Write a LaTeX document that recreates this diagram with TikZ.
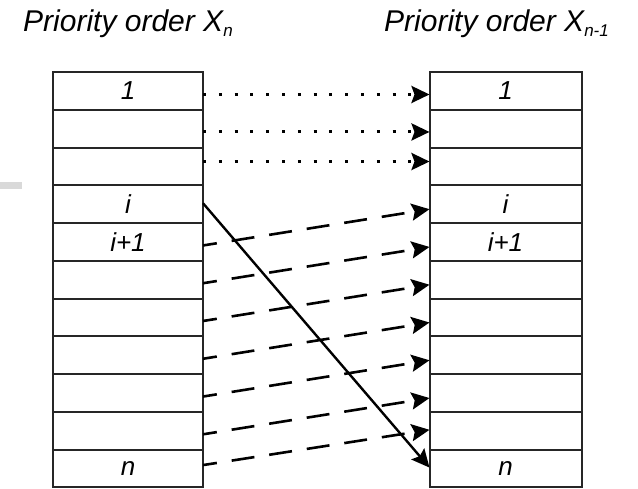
\documentclass[tikz,border=0pt]{standalone}
\usepackage{fontspec}
\setmainfont{Liberation Sans}
\usetikzlibrary{arrows.meta, calc}

\newcommand{\sublbl}[1]{\raisebox{-4.5pt}{\fontsize{17}{17}\selectfont #1}}

\tikzset{
  cell/.style={draw=black!85, line width=2pt, minimum height=37.77pt,
    inner sep=0pt, outer sep=0pt, font=\fontsize{26}{26}\selectfont\itshape},
  lcell/.style={cell, minimum width=150pt},
  rcell/.style={cell, minimum width=152pt},
  heading/.style={anchor=base west, inner sep=0pt, font=\fontsize{30}{30}\selectfont\itshape},
  tip/.style={-{Stealth[length=18pt, width=17pt, inset=3pt]}},
  dotarrow/.style={tip, line width=3pt, dash pattern=on 3pt off 12.8pt},
  dasharrow/.style={tip, line width=2.6pt, dash pattern=on 23pt off 15pt, dash phase=9pt},
  movearrow/.style={tip, line width=2.4pt}
}

\begin{document}
\begin{tikzpicture}[x=1pt, y=-1pt]
  \useasboundingbox (0,0) rectangle (638,489);
  \fill[black!15] (0,182) rectangle (22,189);

  % headings
  \node[heading] (tleft) at (23,31.7) {Priority order X\sublbl{n}};
  \node[heading] (tright) at (384,31.7) {Priority order X\sublbl{n-1}};

  % the two priority lists
  \foreach \k/\t in {1/1, 2/, 3/, 4/i, 5/i+1, 6/, 7/, 8/, 9/, 10/, 11/n} {
    \node[lcell] (L\k) at (128, {72+37.77*(\k-0.5)}) {\t};
    \node[rcell] (R\k) at (505.5, {72+37.77*(\k-0.5)}) {\t};
  }

  % unchanged entries
  \draw[dotarrow] ([yshift=-3.6pt]L1.east) -- ([yshift=-3.6pt]R1.west);
  \draw[dotarrow] ([yshift=-3.3pt]L2.east) -- ([yshift=-3.3pt]R2.west);
  \draw[dotarrow] ([yshift=4.9pt]L3.east) -- ([yshift=4.9pt]R3.west);

  % entries moving up by one
  \foreach \a/\b in {5/4, 6/5, 7/6, 8/7, 9/8, 10/9}
    \draw[dasharrow] ([yshift=-3.5pt]L\a.east) -- ([yshift=-5pt]R\b.west);
  \draw[dasharrow] ([yshift=3.5pt]L11.east) -- ([yshift=1pt]R10.west);

  % entry i goes to the end
  \draw[movearrow] ([yshift=1pt]L4.east) -- ([yshift=1pt]R11.west);
\end{tikzpicture}
\end{document}
